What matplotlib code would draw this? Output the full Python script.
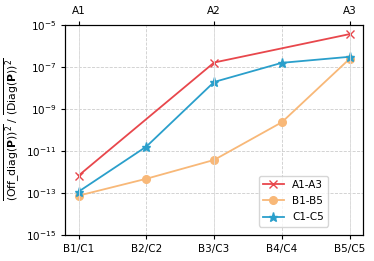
import matplotlib
matplotlib.use("Agg")
import matplotlib.pyplot as plt

bottom_labels = ["B1/C1", "B2/C2", "B3/C3", "B4/C4", "B5/C5"]
top_labels = ["A1", "A2", "A3"]
a_pos = [0, 2, 4]
a_vals = [6.7e-13, 1.6e-7, 3.6e-6]
b_vals = [7.4e-14, 4.7e-13, 3.7e-12, 2.3e-10, 2.4e-7]
c_vals = [1.15e-13, 1.6e-11, 1.9e-8, 1.55e-7, 3.0e-7]

fig = plt.figure(figsize=(3.74, 2.61), dpi=100)
ax = fig.add_axes([0.174, 0.1, 0.797, 0.805])
xb = list(range(len(bottom_labels)))
ax.plot(a_pos, a_vals, color="#e8474c", marker="x", ms=5.5, lw=1.3, label="A1-A3")
ax.plot(xb, b_vals, color="#f8b878", marker="o", ms=5.5, lw=1.3, label="B1-B5")
ax.plot(xb, c_vals, color="#2a9fcb", marker="*", ms=6.5, lw=1.3, label="C1-C5")
ax.set_yscale("log")
ax.set_ylim(1e-15, 1e-5)
ax.set_yticks([1e-15, 1e-13, 1e-11, 1e-9, 1e-7, 1e-5])
ax.minorticks_off()
ax.set_xlim(-0.2, 4.2)
ax.set_xticks(xb)
ax.set_xticklabels(bottom_labels)
ax.tick_params(labelsize=7.5, length=3)
ax.grid(True, which="major", ls="--", color="#cccccc", lw=0.6)
ax.set_ylabel(r"$\overline{\mathrm{(Off\_diag}(\mathbf{P}))^{2}}\ /\ \overline{\mathrm{(Diag}(\mathbf{P}))^{2}}$", fontsize=7.8)
ax.yaxis.set_label_coords(-0.145, 0.5)
top = ax.twiny()
top.set_xlim(ax.get_xlim())
top.set_xticks(a_pos)
top.set_xticklabels(top_labels)
top.tick_params(labelsize=7.5, length=3)
top.grid(True, color="#dddddd", lw=0.6)
ax.legend(loc="lower right", fontsize=7.5, bbox_to_anchor=(0.90, 0.015), labelspacing=0.6)
fig.savefig("out.png", dpi=100)
